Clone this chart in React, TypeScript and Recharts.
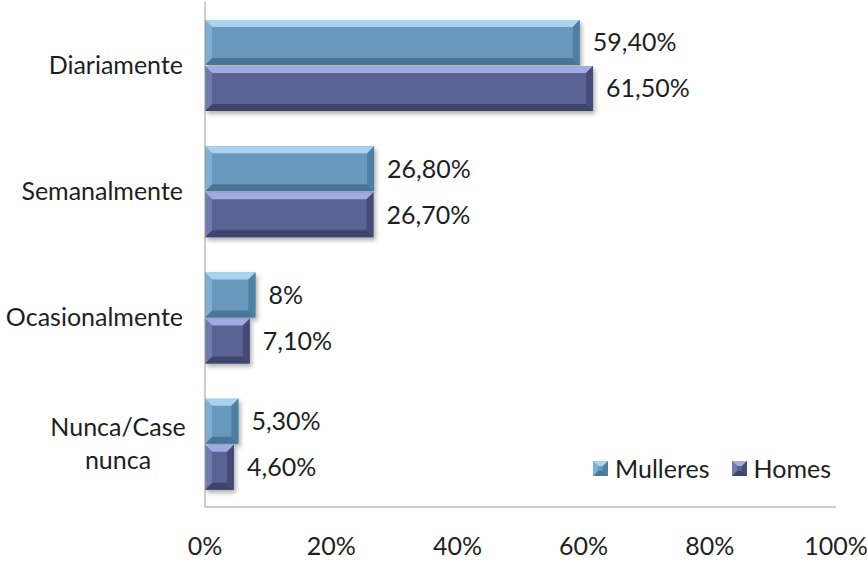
import React from 'react';
import { BarChart, Bar, XAxis, YAxis, LabelList } from 'recharts';

const categories = ['Diariamente', 'Semanalmente', 'Ocasionalmente', 'Nunca/Case nunca'];
const mulleres = [59.4, 26.8, 8, 5.3];
const homes = [61.5, 26.7, 7.1, 4.6];
const xTicks = [0, 20, 40, 60, 80, 100];

const data = categories.map((name, i) => ({ name, mulleres: mulleres[i], homes: homes[i] }));

const FONT = 'Lato, "Open Sans", sans-serif';
const TEXT = '#1e1e1e';

const palettes = {
  mulleres: { top: '#a9d3ef', face: '#6899bd', left: '#7fb0d3', right: '#4f7fa3', bottom: '#4a7698' },
  homes: { top: '#a3aae2', face: '#5a6493', left: '#7279ad', right: '#444c78', bottom: '#3d446c' },
};

type Pal = typeof palettes.mulleres;

function bevel(x: number, y: number, w: number, h: number, pal: Pal, d: number) {
  return (
    <g>
      <rect x={x} y={y} width={w} height={h} fill={pal.face} />
      <polygon points={`${x},${y} ${x + w},${y} ${x + w - d},${y + d} ${x + d},${y + d}`} fill={pal.top} />
      <polygon points={`${x},${y + h} ${x + w},${y + h} ${x + w - d},${y + h - d} ${x + d},${y + h - d}`} fill={pal.bottom} />
      <polygon points={`${x},${y} ${x + d},${y + d} ${x + d},${y + h - d} ${x},${y + h}`} fill={pal.left} />
      <polygon points={`${x + w},${y} ${x + w - d},${y + d} ${x + w - d},${y + h - d} ${x + w},${y + h}`} fill={pal.right} />
    </g>
  );
}

const makeShape = (pal: Pal) => (props: any) => {
  const { x, y, width, height } = props;
  if (!width || !height) return <g />;
  const d = Math.min(7, width / 2, height / 2);
  return <g filter="url(#barShadow)">{bevel(x, y, width, height, pal, d)}</g>;
};

const fmt = (v: number) => (Number.isInteger(v) ? `${v}%` : `${v.toFixed(2).replace('.', ',')}%`);

const CategoryTick = ({ x, y, payload }: any) => {
  const text: string = payload.value;
  const fs = 25;
  if (text.length > 14) {
    const cut = text.lastIndexOf(' ');
    const lines = [text.slice(0, cut), text.slice(cut + 1)];
    const cx = x - (lines[0].length * fs * 0.52) / 2;
    return (
      <g>
        {lines.map((l, i) => (
          <text key={i} x={cx} y={y + (i - 0.5) * 33} dy="0.35em" textAnchor="middle" fontSize={fs} fontFamily={FONT} fill={TEXT}>
            {l}
          </text>
        ))}
      </g>
    );
  }
  return (
    <text x={x} y={y} dy="0.35em" textAnchor="end" fontSize={fs} fontFamily={FONT} fill={TEXT}>
      {text}
    </text>
  );
};

const legendItems: [string, Pal][] = [
  ['Mulleres', palettes.mulleres],
  ['Homes', palettes.homes],
];

const LegendBox = () => (
  <div
    style={{
      position: 'absolute',
      left: 593,
      top: 453,
      display: 'flex',
      alignItems: 'center',
      fontFamily: FONT,
      fontSize: 25,
      lineHeight: '30px',
      color: TEXT,
    }}
  >
    {legendItems.map(([label, pal]) => (
      <div key={label} style={{ display: 'flex', alignItems: 'center', marginRight: 22 }}>
        <svg width={15} height={15} style={{ marginRight: 7 }}>
          {bevel(0, 0, 15, 15, pal, 5)}
        </svg>
        <span>{label}</span>
      </div>
    ))}
  </div>
);

export default function App() {
  return (
    <div style={{ position: 'absolute', left: 0, top: 0, width: 867, height: 561, background: '#fff' }}>
      <BarChart
        width={867}
        height={561}
        data={data}
        layout="vertical"
        margin={{ top: 2, right: 31, bottom: 0, left: 0 }}
        barSize={45}
        barGap={1}
      >
        <defs>
          <filter id="barShadow" x="-10%" y="-10%" width="130%" height="140%">
            <feDropShadow dx="2" dy="3" stdDeviation="2" floodColor="#000" floodOpacity="0.3" />
          </filter>
        </defs>
        <XAxis
          type="number"
          domain={[0, 100]}
          ticks={xTicks}
          tickFormatter={(v) => `${v}%`}
          height={54}
          tickLine={false}
          tickMargin={24}
          axisLine={{ stroke: '#9a9a9a' }}
          tick={{ fontSize: 25, fontFamily: FONT, fill: TEXT }}
          interval={0}
        />
        <YAxis
          type="category"
          dataKey="name"
          width={205}
          tickLine={false}
          tickMargin={16}
          axisLine={{ stroke: '#9a9a9a' }}
          tick={<CategoryTick />}
          interval={0}
        />
        <Bar dataKey="mulleres" name="Mulleres" isAnimationActive={false} shape={makeShape(palettes.mulleres)}>
          <LabelList dataKey="mulleres" position="right" offset={13} formatter={fmt} fontSize={25} fontFamily={FONT} fill={TEXT} />
        </Bar>
        <Bar dataKey="homes" name="Homes" isAnimationActive={false} shape={makeShape(palettes.homes)}>
          <LabelList dataKey="homes" position="right" offset={13} formatter={fmt} fontSize={25} fontFamily={FONT} fill={TEXT} />
        </Bar>
      </BarChart>
      <LegendBox />
    </div>
  );
}
